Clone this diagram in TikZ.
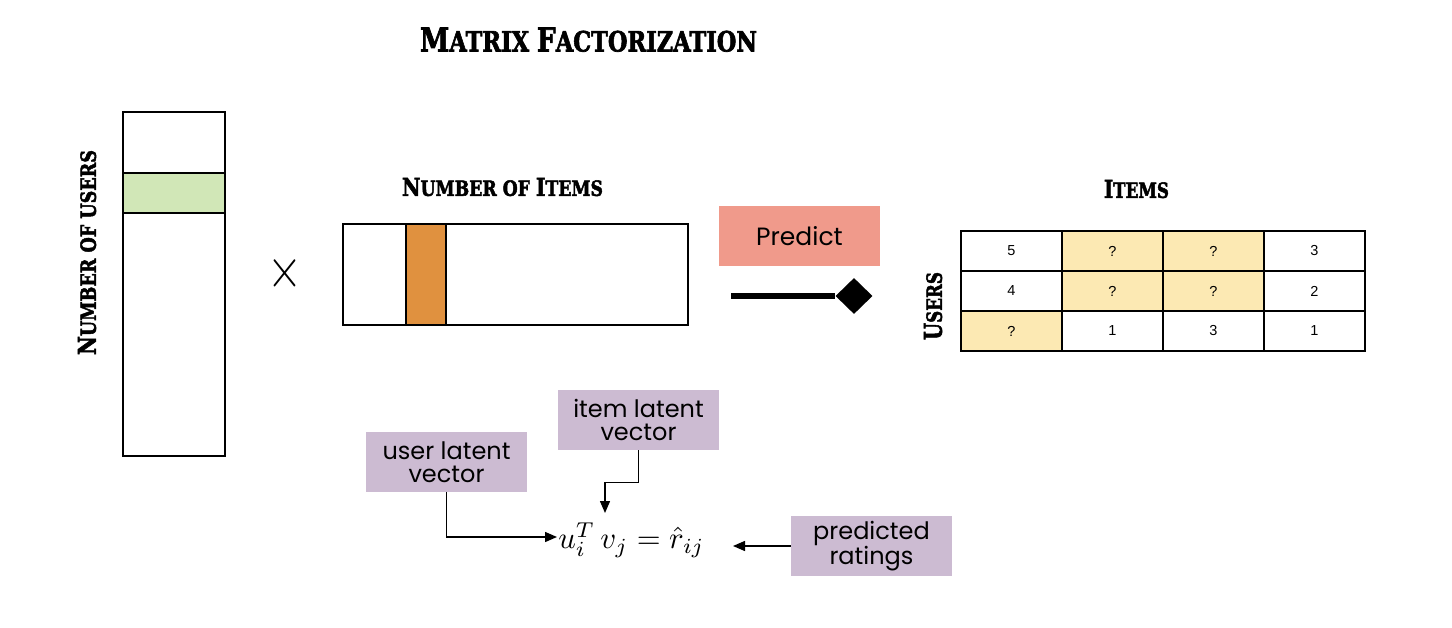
\documentclass[tikz,border=0pt]{standalone}
\usepackage{fontspec}
\usepackage{amsmath}
\usepackage{graphicx}
\usetikzlibrary{arrows.meta,shapes.geometric}
\setmainfont{Liberation Sans}
\newfontfamily\headfont{DejaVu Serif Bold}[FakeBold=2.5]
\newfontfamily\boxfont{Poppins}
\newcommand\hbig[1]{{\headfont\fontsize{30}{30}\selectfont #1}}
\newcommand\hsmall[1]{{\headfont\fontsize{25.5}{25.5}\selectfont #1}}
\newcommand\heading[3]{\resizebox{#1pt}{#2pt}{#3}}
\definecolor{greenband}{HTML}{D1E7B7}
\definecolor{orangeband}{HTML}{E0913F}
\definecolor{predictc}{HTML}{F09A8B}
\definecolor{purplec}{HTML}{CCBBD2}
\definecolor{yellowc}{HTML}{FCE9B3}
\tikzset{
  frame/.style={draw=black, line width=1.6pt},
  cellbox/.style={draw=black, line width=1.6pt, minimum width=101pt, minimum height=40pt, inner sep=0pt, font=\fontsize{14.5}{14.5}\selectfont},
  tagbox/.style={fill=purplec, minimum width=161pt, minimum height=60pt, inner sep=0pt, align=center, font=\boxfont\fontsize{24}{23}\selectfont},
  conn/.style={line width=1.4pt, -{Triangle[length=12pt,width=10pt]}},
}
\begin{document}
\begin{tikzpicture}[x=1pt,y=-1pt]
\useasboundingbox (0,0) rectangle (1452,628);
% title
\node[inner sep=0pt] (title) at (588.5,39.7) {\heading{337}{24}{\hbig{M}\hsmall{ATRIX }\hbig{F}\hsmall{ACTORIZATION}}};
% left tall matrix
\node[frame, minimum width=102pt, minimum height=344pt, inner sep=0pt] (umat) at (174,284) {};
\node[frame, fill=greenband, minimum width=102pt, minimum height=40pt, inner sep=0pt] (uband) at (174,193) {};
\node[rotate=90, inner sep=0pt] (ulabel) at (87,252.5) {\heading{205}{18}{\hbig{N}\hsmall{UMBER OF USERS}}};
% times
\node[inner sep=0pt] (times) at (284.5,273.5) {\resizebox{35pt}{33pt}{$\times$}};
% items matrix
\node[inner sep=0pt] (ilabel) at (502.5,187) {\heading{201}{18}{\hbig{N}\hsmall{UMBER OF }\hbig{I}\hsmall{TEMS}}};
\node[frame, minimum width=345pt, minimum height=101pt, inner sep=0pt] (imat) at (515.5,274.5) {};
\node[frame, fill=orangeband, minimum width=40pt, minimum height=101pt, inner sep=0pt] (iband) at (426,274.5) {};
% predict
\node[fill=predictc, minimum width=161pt, minimum height=60pt, inner sep=0pt, font=\boxfont\fontsize{25}{25}\selectfont] (predict) at (799.5,236) {Predict};
\coordinate (pstart) at (731,296);
\node[diamond, fill=black, minimum width=37pt, minimum height=36pt, inner sep=0pt] (pdiam) at (854,296) {};
\draw[line width=6pt] (pstart) -- (pdiam.west);
% ratings table
\node[inner sep=0pt] (itemsl) at (1136.5,189) {\heading{65}{18}{\hbig{I}\hsmall{TEMS}}};
\node[rotate=90, inner sep=0pt] (usersl) at (933,306) {\heading{68}{18}{\hbig{U}\hsmall{SERS}}};
\node[cellbox] (c11) at (1011.5,251) {5};
\node[cellbox, fill=yellowc] (c12) at (1112.5,251) {?};
\node[cellbox, fill=yellowc] (c13) at (1213.5,251) {?};
\node[cellbox] (c14) at (1314.5,251) {3};
\node[cellbox] (c21) at (1011.5,291) {4};
\node[cellbox, fill=yellowc] (c22) at (1112.5,291) {?};
\node[cellbox, fill=yellowc] (c23) at (1213.5,291) {?};
\node[cellbox] (c24) at (1314.5,291) {2};
\node[cellbox, fill=yellowc] (c31) at (1011.5,331) {?};
\node[cellbox] (c32) at (1112.5,331) {1};
\node[cellbox] (c33) at (1213.5,331) {3};
\node[cellbox] (c34) at (1314.5,331) {1};
% formula and tags
\node[tagbox] (itemv) at (638.5,420) {item latent\\vector};
\node[tagbox] (userv) at (446.5,462) {user latent\\vector};
\node[tagbox] (predr) at (871.5,546) {predicted\\ratings};
\node[inner sep=0pt] (formula) at (631.5,540) {\scalebox{3.07}{$u_i^T\,v_j = \hat{r}_{ij}$}};
\coordinate (fl) at (557,537);
\coordinate (ftop) at (605,513);
\coordinate (fr) at (733,546);
\draw[conn] (userv.south) |- (fl);
\draw[conn] (itemv.south) -- ++(0,32) -| (ftop);
\draw[conn] (predr.west) -- (fr);
\end{tikzpicture}
\end{document}
